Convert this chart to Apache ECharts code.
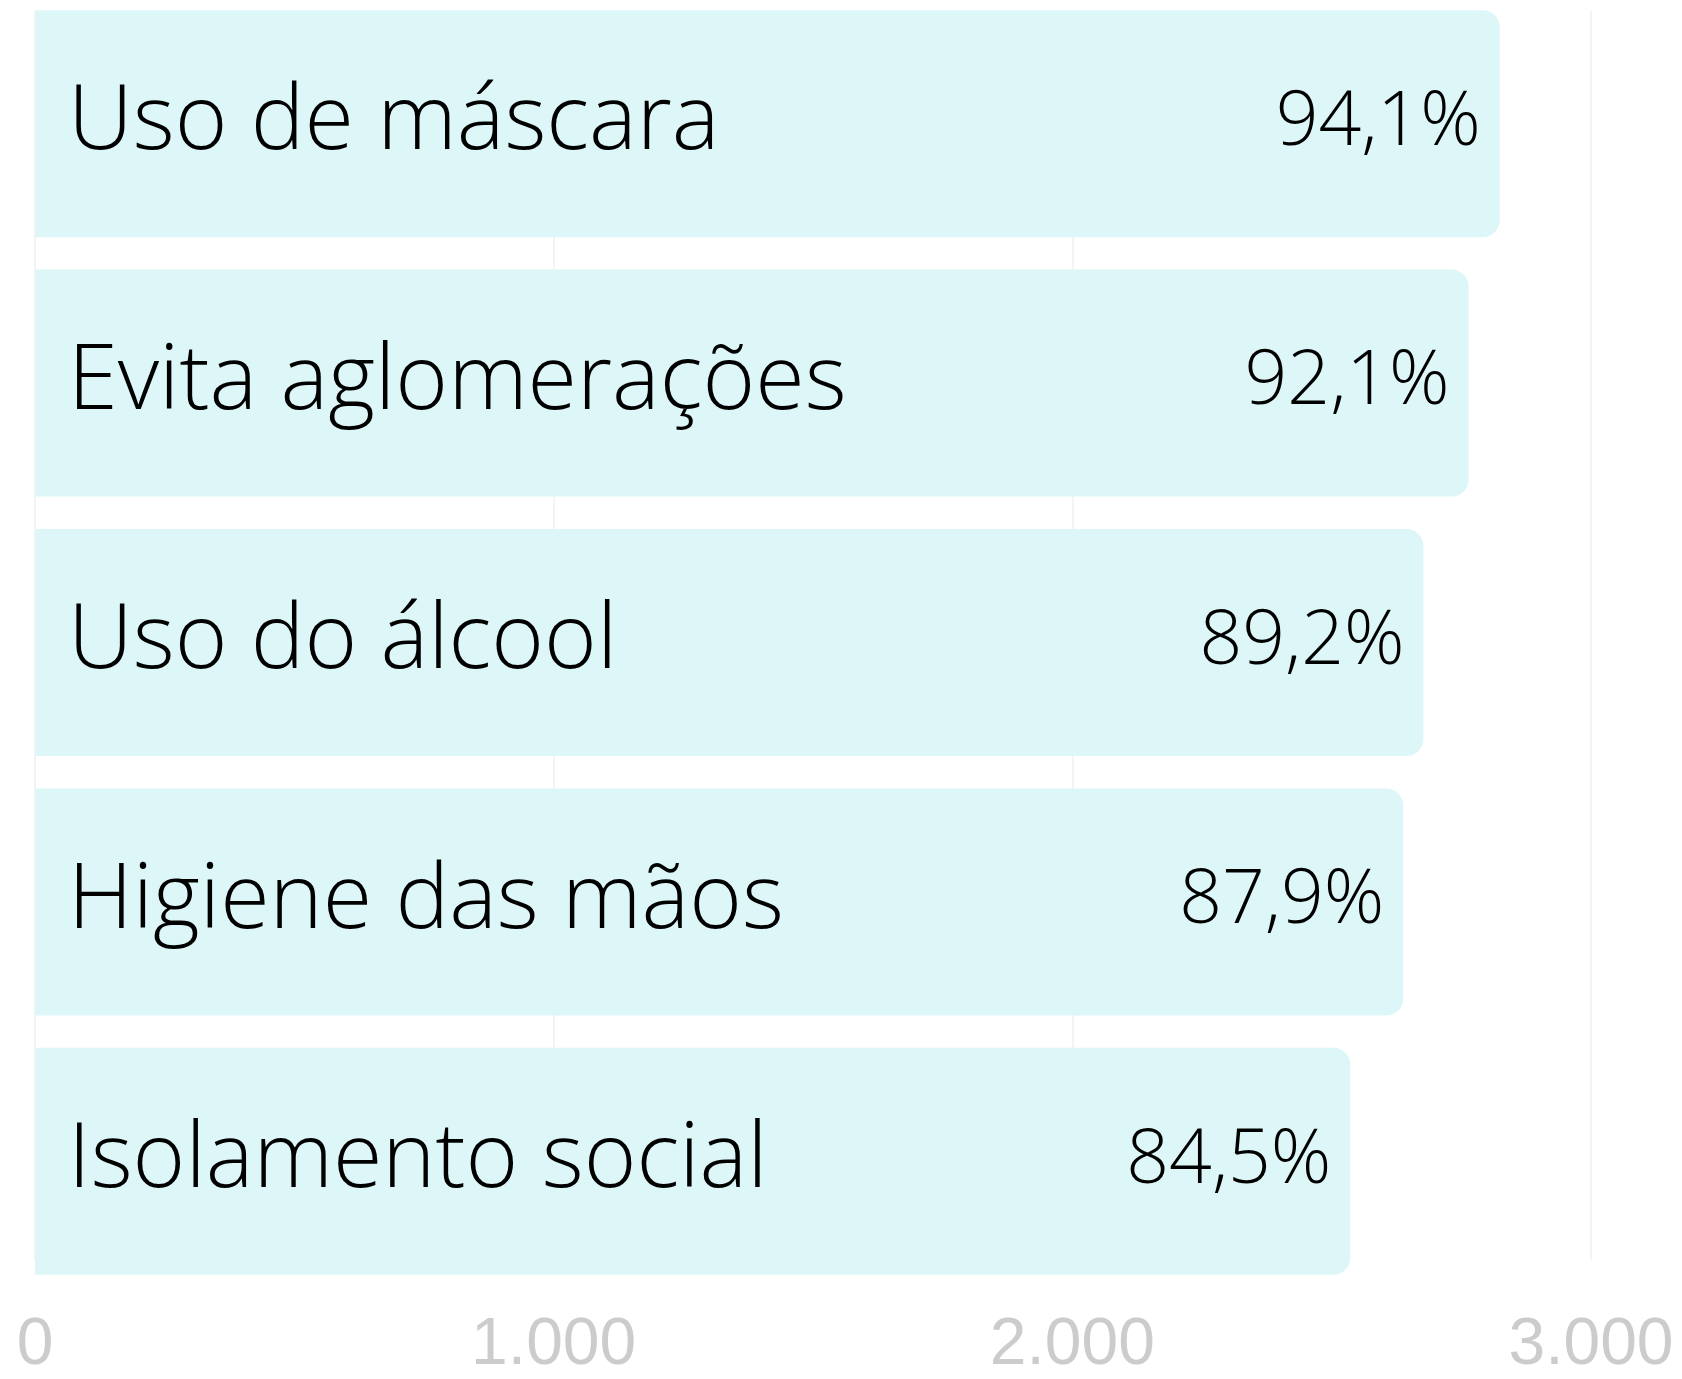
<!DOCTYPE html>
<html>
<head>
<meta charset="utf-8">
<script src="https://cdn.jsdelivr.net/npm/echarts@6/dist/echarts.min.js"></script>
<style>
  html, body { margin: 0; padding: 0; background: #fff; overflow: hidden; }
  /* the chart is moved up a little so the first bar sits near the page top */
  #chart { position: absolute; left: 0; top: -6px; width: 1682px; height: 1385px; }
</style>
</head>
<body>
<div id="chart"></div>
<script>
// dados
const categories = ["Uso de máscara", "Evita aglomerações", "Uso do álcool", "Higiene das mãos", "Isolamento social"];
const counts = [2824, 2764, 2677, 2638, 2536];
const percents = ["94,1%", "92,1%", "89,2%", "87,9%", "84,5%"];
const xTicks = [0, 1000, 2000, 3000];

const fmtThousands = (v) => String(v).replace(/\B(?=(\d{3})+(?!\d))/g, ".");

const chart = echarts.init(document.getElementById("chart"), null, { renderer: "canvas" });

const option = {
  backgroundColor: "#ffffff",
  animation: false,
  grid: [
    // barras
    { left: 35, width: 1556, top: 0, height: 1297, containLabel: false },
    // grade e rótulos do eixo
    { left: 35, width: 1556, top: 17, height: 1263, containLabel: false },
  ],
  xAxis: [
    {
      gridIndex: 0,
      type: "value",
      min: xTicks[0],
      max: xTicks[xTicks.length - 1],
      show: false,
    },
    {
      gridIndex: 1,
      type: "value",
      min: xTicks[0],
      max: xTicks[xTicks.length - 1],
      interval: 1000,
      axisLine: { show: false },
      axisTick: { show: false },
      splitLine: { show: true, lineStyle: { color: "#f0f0f0", width: 1.5 } },
      axisLabel: {
        margin: 53,
        color: "#cccccc",
        fontFamily: "Liberation Sans, Arial, sans-serif",
        fontSize: 66,
        formatter: (v) => fmtThousands(v),
      },
    },
  ],
  yAxis: [
    {
      gridIndex: 0,
      type: "category",
      inverse: true,
      data: categories,
      show: false,
    },
    {
      gridIndex: 1,
      type: "category",
      data: categories,
      show: false,
    },
  ],
  series: [
    {
      type: "bar",
      xAxisIndex: 0,
      yAxisIndex: 0,
      data: counts,
      barWidth: 227,
      itemStyle: { color: "#ddf7f8", borderRadius: [0, 17, 17, 0] },
      label: {
        show: true,
        position: "insideLeft",
        distance: 33,
        color: "#000",
        fontFamily: "Open Sans",
        fontWeight: 300,
        fontSize: 90,
        formatter: (p) => categories[p.dataIndex],
      },
      z: 2,
    },
    {
      type: "bar",
      xAxisIndex: 0,
      yAxisIndex: 0,
      data: counts,
      barWidth: 227,
      barGap: "-100%",
      itemStyle: { color: "rgba(0,0,0,0)" },
      label: {
        show: true,
        position: "insideRight",
        distance: 19,
        color: "#000",
        fontFamily: "Open Sans",
        fontWeight: 300,
        fontSize: 75,
        formatter: (p) => percents[p.dataIndex],
      },
      z: 3,
    },
  ],
};

chart.setOption(option);
</script>
</body>
</html>
